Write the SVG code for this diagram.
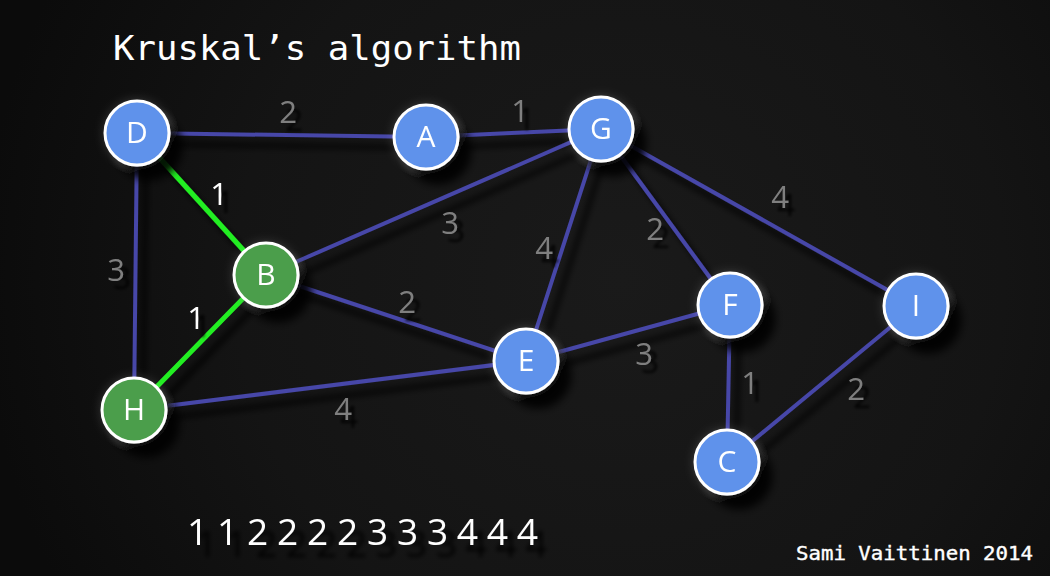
<svg xmlns="http://www.w3.org/2000/svg" width="1050" height="576" viewBox="0 0 1050 576">
<defs>
<radialGradient id="bg" cx="620" cy="280" r="640" gradientUnits="userSpaceOnUse">
<stop offset="0" stop-color="#1a1a1a"/>
<stop offset="0.6" stop-color="#141414"/>
<stop offset="1" stop-color="#0b0b0b"/>
</radialGradient>
<filter id="eshadow" x="-20%" y="-20%" width="140%" height="140%">
<feDropShadow dx="9" dy="11" stdDeviation="3" flood-color="#000" flood-opacity="0.9"/>
</filter>
<filter id="nshadow" x="-60%" y="-60%" width="220%" height="220%">
<feGaussianBlur in="SourceAlpha" stdDeviation="5" result="b"/>
<feFlood flood-color="#ffffff" flood-opacity="0.16"/>
<feComposite in2="b" operator="in" result="glow"/>
<feDropShadow in="SourceGraphic" dx="12" dy="14" stdDeviation="4" flood-color="#000" flood-opacity="0.9" result="sh"/>
<feMerge><feMergeNode in="glow"/><feMergeNode in="sh"/></feMerge>
</filter>
<filter id="tshadow" x="-50%" y="-50%" width="200%" height="200%">
<feDropShadow dx="6" dy="8" stdDeviation="1.5" flood-color="#000" flood-opacity="0.9"/>
</filter>
<filter id="seqshadow" x="-10%" y="-50%" width="120%" height="200%">
<feDropShadow dx="9" dy="12" stdDeviation="2" flood-color="#000" flood-opacity="0.9"/>
</filter>
<style>
.e{stroke:#4646a8;stroke-width:4;fill:none;stroke-linecap:round}
.eg{stroke:#22ee22;stroke-width:5;fill:none;stroke-linecap:round}
.n circle{stroke:#ffffff;stroke-width:3}
.blue circle{fill:#5e92eb}
.green circle{fill:#4b9e4b}
.n text{font-family:"Open Sans","Noto Sans",sans-serif;font-size:30px;fill:#ffffff;text-anchor:middle}
.w{font-family:"Open Sans","Noto Sans",sans-serif;font-size:31px;fill:#7f7f7f;text-anchor:middle}
.wg{fill:#ffffff}
</style>
</defs>
<rect width="1050" height="576" fill="url(#bg)"/>
<text x="113" y="60" font-family="'DejaVu Sans Mono','Liberation Mono',monospace" font-size="34" fill="#ffffff" textLength="408" lengthAdjust="spacingAndGlyphs">Kruskal’s algorithm</text>

<g id="connectors" filter="url(#eshadow)">
<line class="e" x1="137" y1="133" x2="426" y2="137"/>
<line class="e" x1="426" y1="137" x2="601" y2="129"/>
<line class="e" x1="137" y1="133" x2="134" y2="410"/>
<line class="e" x1="266" y1="275" x2="601" y2="129"/>
<line class="e" x1="266" y1="275" x2="526" y2="361"/>
<line class="e" x1="601" y1="129" x2="526" y2="361"/>
<line class="e" x1="601" y1="129" x2="730" y2="305"/>
<line class="e" x1="601" y1="129" x2="916" y2="306"/>
<line class="e" x1="134" y1="410" x2="526" y2="361"/>
<line class="e" x1="526" y1="361" x2="730" y2="305"/>
<line class="e" x1="730" y1="305" x2="727" y2="462"/>
<line class="e" x1="916" y1="306" x2="727" y2="462"/>
<line class="eg" x1="137" y1="133" x2="266" y2="275"/>
<line class="eg" x1="266" y1="275" x2="134" y2="410"/>
</g>

<g id="weights" filter="url(#tshadow)">
<text class="w" x="288" y="123">2</text>
<text class="w" x="520" y="122">1</text>
<text class="w wg" x="219" y="205">1</text>
<text class="w" x="116" y="281">3</text>
<text class="w" x="450" y="234">3</text>
<text class="w" x="544" y="259">4</text>
<text class="w" x="655" y="240">2</text>
<text class="w" x="780" y="208">4</text>
<text class="w" x="407" y="313">2</text>
<text class="w wg" x="196" y="329">1</text>
<text class="w" x="644" y="365">3</text>
<text class="w" x="343" y="420">4</text>
<text class="w" x="750" y="394">1</text>
<text class="w" x="856" y="400">2</text>
</g>

<g id="node-D" class="n blue" filter="url(#nshadow)"><circle cx="137" cy="133" r="32"/><text x="137" y="143">D</text></g>
<g id="node-A" class="n blue" filter="url(#nshadow)"><circle cx="426" cy="137" r="32"/><text x="426" y="147">A</text></g>
<g id="node-G" class="n blue" filter="url(#nshadow)"><circle cx="601" cy="129" r="32"/><text x="601" y="139">G</text></g>
<g id="node-B" class="n green" filter="url(#nshadow)"><circle cx="266" cy="275" r="32"/><text x="266" y="285">B</text></g>
<g id="node-H" class="n green" filter="url(#nshadow)"><circle cx="134" cy="410" r="32"/><text x="134" y="420">H</text></g>
<g id="node-E" class="n blue" filter="url(#nshadow)"><circle cx="526" cy="361" r="32"/><text x="526" y="371">E</text></g>
<g id="node-F" class="n blue" filter="url(#nshadow)"><circle cx="730" cy="305" r="32"/><text x="730" y="315">F</text></g>
<g id="node-I" class="n blue" filter="url(#nshadow)"><circle cx="916" cy="306" r="32"/><text x="916" y="316">I</text></g>
<g id="node-C" class="n blue" filter="url(#nshadow)"><circle cx="727" cy="462" r="32"/><text x="727" y="472">C</text></g>

<text x="187" y="545" font-family="'Open Sans','Noto Sans',sans-serif" font-size="37" fill="#ffffff" textLength="351" lengthAdjust="spacing" filter="url(#seqshadow)">112222333444</text>
<text x="796" y="560" font-family="'DejaVu Sans Mono','Liberation Mono',monospace" font-size="20" fill="#ffffff" stroke="#ffffff" stroke-width="0.4" textLength="237" lengthAdjust="spacingAndGlyphs">Sami Vaittinen 2014</text>
</svg>
